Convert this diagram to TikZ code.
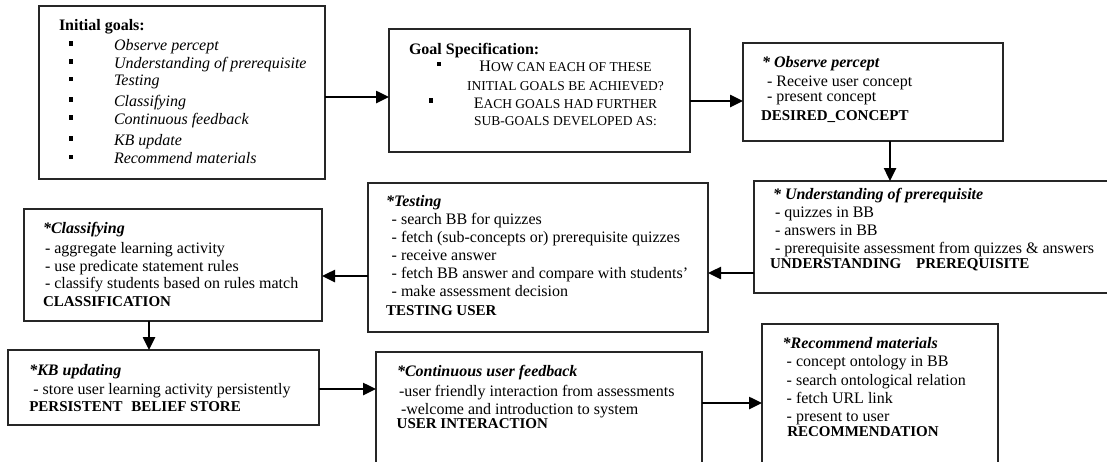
\documentclass[tikz,border=0pt]{standalone}
\usepackage{fontspec}
\setmainfont{Liberation Serif}
\usetikzlibrary{arrows.meta}
\newcommand\sqbul{\makebox[45.5pt][l]{\rule[4.5pt]{4.3pt}{4.3pt}}}
\newcommand\bigsc[1]{{\fontsize{16}{18}\selectfont #1}}
\newcommand\smsc[1]{{\fontsize{13.5}{16}\selectfont #1}}
\begin{document}
\begin{tikzpicture}[x=1pt,y=-1pt,
  box/.style={draw=black!85, line width=1.1pt, inner sep=0pt, outer sep=0pt, anchor=north west},
  ln/.style={anchor=base west, inner sep=0pt, outer sep=0pt, font=\fontsize{16}{18}\selectfont},
  lnc/.style={anchor=base, inner sep=0pt, outer sep=0pt},
  capl/.style={ln, font=\fontsize{15}{18}\selectfont\bfseries},
  hd/.style={ln, font=\fontsize{16}{18}\selectfont\bfseries\itshape},
  it/.style={ln, font=\fontsize{16}{18}\selectfont\itshape},
  arr/.style={line width=2.5pt, -{Triangle[length=13pt,width=12pt]}}]
\useasboundingbox (0,0) rectangle (1107,461);
\clip (0,0) rectangle (1107,461);

% boxes
\node[box, minimum width=286pt, minimum height=173pt] (b1) at (39,6) {};
\node[box, minimum width=301pt, minimum height=123pt] (b2) at (389,29) {};
\node[box, minimum width=260pt, minimum height=98pt] (b3) at (743,43) {};
\node[box, minimum width=366pt, minimum height=112pt] (b4) at (754,181) {};
\node[box, minimum width=340pt, minimum height=149pt] (b5) at (368,183) {};
\node[box, minimum width=298pt, minimum height=112pt] (b6) at (24,209) {};
\node[box, minimum width=311pt, minimum height=75pt] (b7) at (8,350) {};
\node[box, minimum width=326pt, minimum height=130pt] (b8) at (376,352) {};
\node[box, minimum width=236pt, minimum height=160pt] (b9) at (762,324) {};

% box 1
\node[ln, font=\fontsize{16}{18}\selectfont\bfseries] (t1h) at (59,30.5) {Initial goals:};
\node[ln] (t1a) at (68.5,50) {\sqbul\textit{Observe percept}};
\node[ln] (t1b) at (68.5,68) {\sqbul\textit{Understanding of prerequisite}};
\node[ln] (t1c) at (68.5,85.5) {\sqbul\textit{Testing}};
\node[ln] (t1d) at (68.5,106) {\sqbul\textit{Classifying}};
\node[ln] (t1e) at (68.5,124) {\sqbul\textit{Continuous feedback}};
\node[ln] (t1f) at (68.5,145) {\sqbul\textit{KB update}};
\node[ln] (t1g) at (68.5,163.5) {\sqbul\textit{Recommend materials}};

% box 2
\node[ln, font=\fontsize{16}{18}\selectfont\bfseries] (t2h) at (409,54) {Goal Specification:};
\node[ln] (t2p) at (436.5,71.5) {\rule[5.5pt]{4.2pt}{4.2pt}};
\node[ln] (t2q) at (429,108) {\rule[5.5pt]{4.2pt}{4.2pt}};
\node[lnc] (t2a) at (565.5,71.5) {\bigsc{H}\smsc{OW CAN EACH OF THESE}};
\node[lnc] (t2b) at (565.5,90) {\smsc{INITIAL GOALS BE ACHIEVED?}};
\node[lnc] (t2c) at (565.5,108) {\bigsc{E}\smsc{ACH GOALS HAD FURTHER}};
\node[lnc] (t2d) at (565.5,125.5) {\smsc{SUB-GOALS DEVELOPED AS:}};

% box 3
\node[hd] (t3h) at (762,67) {* Observe percept};
\node[ln] (t3a) at (767,86.7) {- Receive user concept};
\node[ln] (t3b) at (767,101.7) {- present concept};
\node[capl] (t3c) at (761,120) {DESIRED\_CONCEPT};

% box 4
\node[hd] (t4h) at (773,199) {* Understanding of prerequisite};
\node[ln] (t4a) at (775,217.3) {- quizzes in BB};
\node[ln] (t4b) at (775,235) {- answers in BB};
\node[ln] (t4c) at (775,253.3) {- prerequisite assessment from quizzes \& answers};
\node[capl] (t4d) at (770,268.3) {UNDERSTANDING\hspace{11pt} PREREQUISITE};

% box 5
\node[hd] (t5h) at (386,206) {*Testing};
\node[ln] (t5a) at (391.7,224) {- search BB for quizzes};
\node[ln] (t5b) at (391.7,242.3) {- fetch (sub-concepts or) prerequisite quizzes};
\node[ln] (t5c) at (391.7,260) {- receive answer};
\node[ln] (t5d) at (391.7,278.3) {- fetch BB answer and compare with students'};
\node[ln] (t5e) at (391.7,296.7) {- make assessment decision};
\node[capl] (t5f) at (386,315) {TESTING USER};

% box 6
\node[hd] (t6h) at (43,233.3) {*Classifying};
\node[ln] (t6a) at (45,253.3) {- aggregate learning activity};
\node[ln] (t6b) at (45,271) {- use predicate statement rules};
\node[ln] (t6c) at (45,288.3) {- classify students based on rules match};
\node[capl] (t6d) at (43,306.7) {CLASSIFICATION};

% box 7
\node[hd] (t7h) at (29.3,375.7) {*KB updating};
\node[ln] (t7a) at (33.3,394) {- store user learning activity persistently};
\node[capl] (t7b) at (29.3,411.7) {PERSISTENT\hspace{5pt} BELIEF STORE};

% box 8
\node[hd] (t8h) at (397,376.7) {*Continuous user feedback};
\node[ln] (t8a) at (399,396) {-user friendly interaction from assessments};
\node[ln] (t8b) at (401,414) {-welcome and introduction to system};
\node[capl] (t8c) at (396.7,428.3) {USER INTERACTION};

% box 9
\node[hd] (t9h) at (782.7,348.3) {*Recommend materials};
\node[ln] (t9a) at (786.7,366.7) {- concept ontology in BB};
\node[ln] (t9b) at (786.7,385) {- search ontological relation};
\node[ln] (t9c) at (786.7,403.3) {- fetch URL link};
\node[ln] (t9d) at (786.7,421.7) {- present to user};
\node[capl] (t9e) at (787.3,436.7) {RECOMMENDATION};

% connectors
\draw[arr] (b1.east |- 0,97) -- (b2.west |- 0,97);
\draw[arr] (b2.east |- 0,101) -- (b3.west |- 0,101);
\draw[arr] (b3.south -| 890,0) -- (b4.north -| 890,0);
\draw[arr] (b4.west |- 0,273) -- (b5.east |- 0,273);
\draw[arr] (b5.west |- 0,276) -- (b6.east |- 0,276);
\draw[arr] (b6.south -| 149,0) -- (b7.north -| 149,0);
\draw[arr] (b7.east |- 0,389) -- (b8.west |- 0,389);
\draw[arr] (b8.east |- 0,403) -- (b9.west |- 0,403);
\end{tikzpicture}
\end{document}
